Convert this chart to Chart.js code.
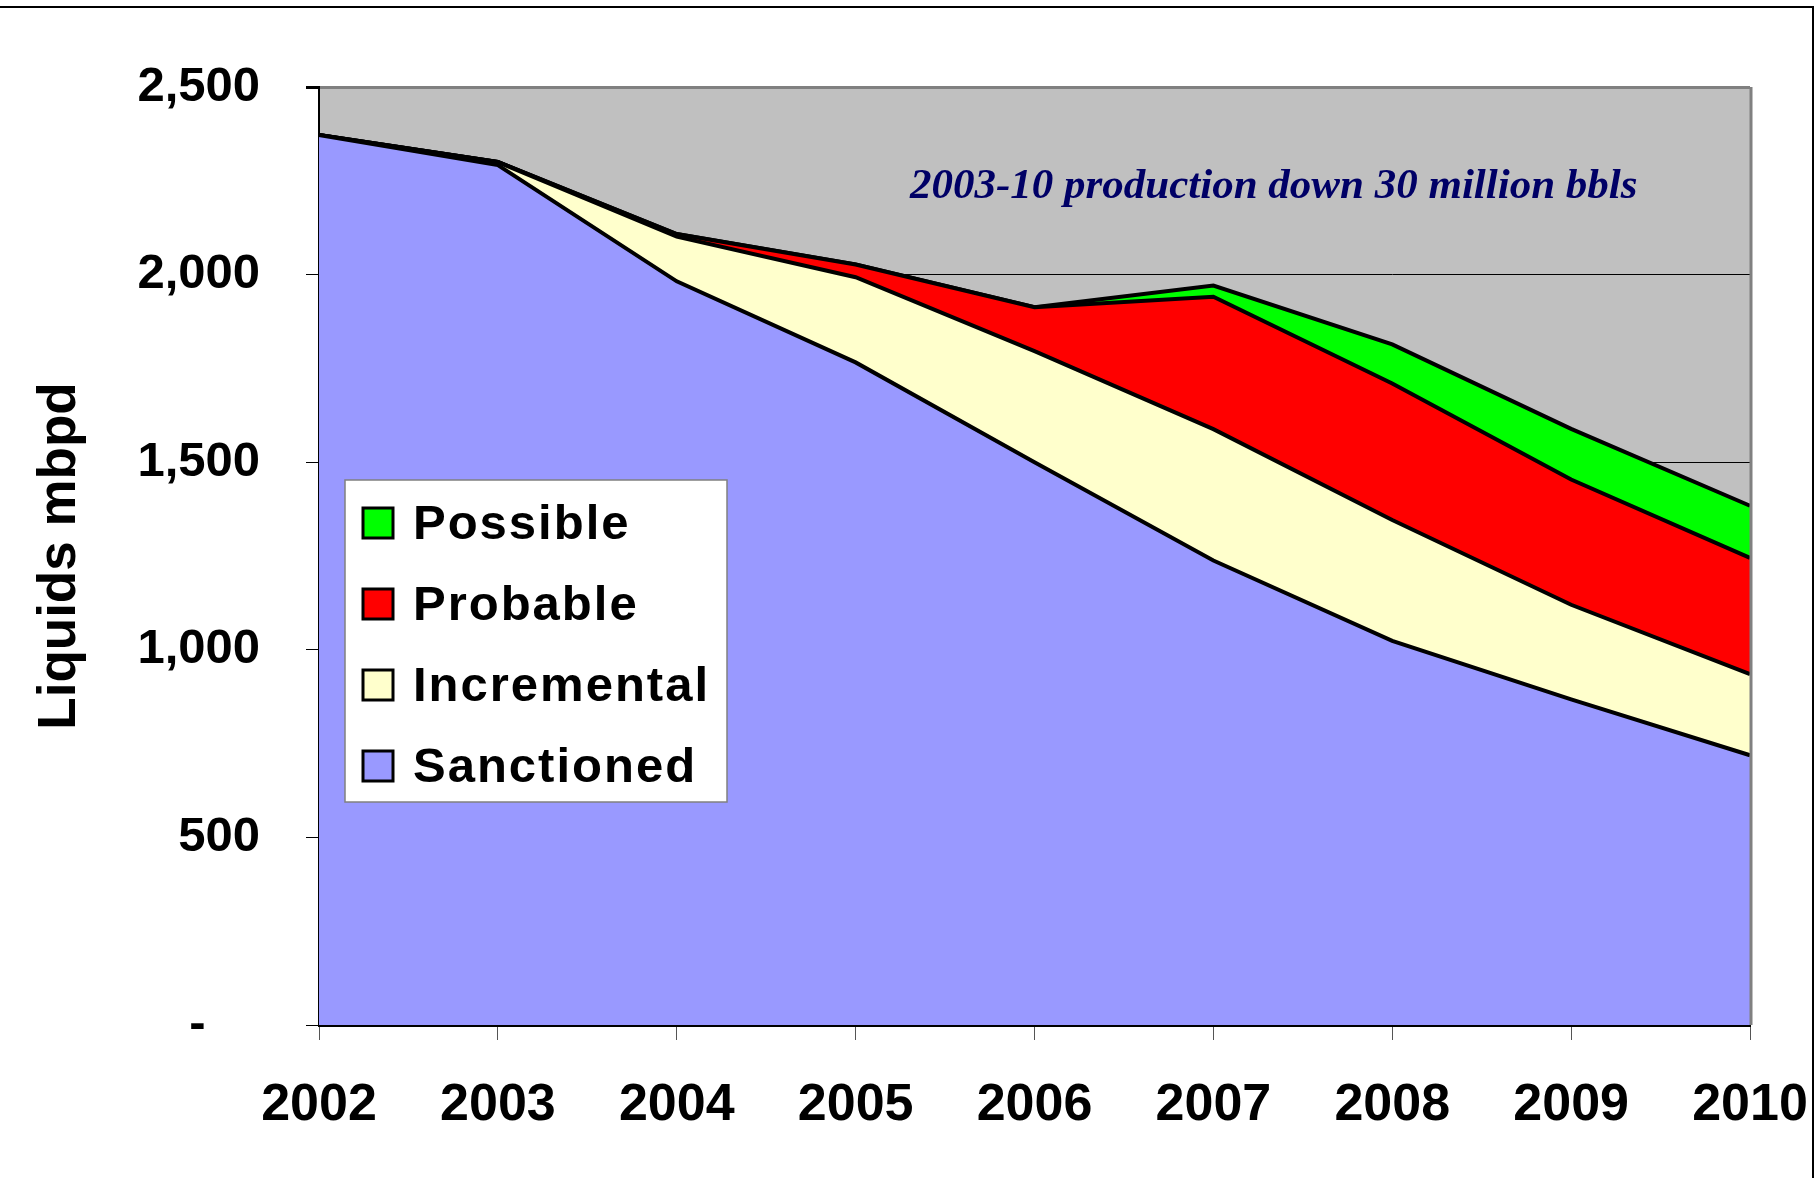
<!DOCTYPE html>
<html>
<head>
<meta charset="utf-8">
<script src="https://cdn.jsdelivr.net/npm/chart.js@4"></script>
<style>
  body { margin: 0; background: #fff; }
  #wrap { width: 1819px; height: 1178px; position: relative; }
</style>
</head>
<body>
<div id="wrap"><canvas id="chart"></canvas></div>
<script>
const years = ['2002', '2003', '2004', '2005', '2006', '2007', '2008', '2009', '2010'];

// stacked series, bottom to top
const sanctioned = [2372, 2292, 1982, 1766, 1500, 1238, 1024, 868, 719];
const incremental = [0, 8, 119, 227, 296, 350, 322, 252, 216];
const probable = [0, 0, 7, 34, 117, 353, 364, 334, 310];
const possible = [0, 0, 0, 0, 0, 30, 104, 135, 139];

const yTicks = [0, 500, 1000, 1500, 2000, 2500];
const note = '2003-10 production down 30 million bbls';

const sans = "'Liberation Sans', Arial, sans-serif";

const series = [
  { label: 'Sanctioned', data: sanctioned, color: '#9999ff' },
  { label: 'Incremental', data: incremental, color: '#ffffcc' },
  { label: 'Probable', data: probable, color: '#ff0000' },
  { label: 'Possible', data: possible, color: '#00ff00' }
];

const makeDataset = (s, i) => ({
  label: s.label,
  data: s.data,
  backgroundColor: s.color,
  borderColor: '#000',
  borderWidth: 4,
  borderJoinStyle: 'miter',
  fill: i === 0 ? 'origin' : '-1',
  pointRadius: 0,
  tension: 0
});

// grey plot background, frame, note and legend box
const extras = {
  id: 'extras',
  beforeDraw(chart) {
    const { ctx, chartArea: a } = chart;
    ctx.save();
    ctx.fillStyle = '#c0c0c0';
    ctx.fillRect(a.left, a.top, a.right - a.left, a.bottom - a.top);
    ctx.restore();
  },
  afterDatasetsDraw(chart) {
    const { ctx, chartArea: a } = chart;
    ctx.save();
    ctx.strokeStyle = '#808080';
    ctx.lineWidth = 3;
    ctx.beginPath();
    ctx.moveTo(a.right + 1, a.top);
    ctx.lineTo(a.right + 1, a.bottom);
    ctx.stroke();

    ctx.fillStyle = '#000066';
    ctx.font = "italic bold 43px 'Liberation Serif', 'Times New Roman', serif";
    ctx.textBaseline = 'alphabetic';
    ctx.textAlign = 'left';
    ctx.fillText(note, 910, 198);
    ctx.restore();
  },
  afterDraw(chart) {
    const { ctx } = chart;
    ctx.save();
    // outer frame (top and right only)
    ctx.strokeStyle = '#000';
    ctx.lineWidth = 2;
    ctx.beginPath();
    ctx.moveTo(0, 7);
    ctx.lineTo(1813, 7);
    ctx.lineTo(1813, 1178);
    ctx.stroke();

    // legend
    const x = 345, y = 480, w = 382, h = 322;
    ctx.fillStyle = '#fff';
    ctx.fillRect(x, y, w, h);
    ctx.strokeStyle = '#808080';
    ctx.lineWidth = 1.5;
    ctx.strokeRect(x, y, w, h);

    ctx.font = 'bold 49px ' + sans;
    ctx.letterSpacing = '2px';
    ctx.textBaseline = 'middle';
    ctx.textAlign = 'left';
    const items = series.slice().reverse();
    items.forEach((s, i) => {
      const cy = 523 + i * 81;
      ctx.fillStyle = s.color;
      ctx.fillRect(363, cy - 15, 30, 30);
      ctx.strokeStyle = '#000';
      ctx.lineWidth = 3;
      ctx.strokeRect(363, cy - 15, 30, 30);
      ctx.fillStyle = '#000';
      ctx.fillText(s.label, 413, cy + 2);
    });
    ctx.restore();
  }
};

new Chart(document.getElementById('chart'), {
  type: 'line',
  data: {
    labels: years,
    datasets: series.map(makeDataset)
  },
  options: {
    responsive: true,
    maintainAspectRatio: false,
    animation: false,
    layout: { padding: { left: 0, right: 69, top: 87, bottom: 0 } },
    plugins: {
      legend: { display: false },
      tooltip: { enabled: false }
    },
    scales: {
      x: {
        offset: false,
        grid: {
          drawOnChartArea: false,
          drawTicks: true,
          tickLength: 15,
          color: '#555',
          lineWidth: 1
        },
        border: { color: '#000', width: 3 },
        ticks: {
          color: '#000',
          padding: 34,
          maxRotation: 0,
          autoSkip: false,
          font: { family: sans, size: 52, weight: 'bold' }
        },
        afterFit: (scale) => {
          scale.height = 153;
          scale.paddingLeft = 0;
          scale.paddingRight = 0;
        }
      },
      y: {
        stacked: true,
        min: 0,
        max: 2500,
        afterBuildTicks: (scale) => { scale.ticks = yTicks.map((v) => ({ value: v })); },
        grid: {
          color: (c) => (c.tick && c.tick.value === 2500 ? '#808080' : '#000'),
          lineWidth: (c) => (c.tick && c.tick.value === 2500 ? 3 : 1),
          tickColor: '#000',
          tickLength: 13
        },
        border: { color: '#000', width: 2 },
        ticks: {
          color: '#000',
          padding: 46,
          font: { family: sans, size: 49, weight: 'bold' },
          callback: (v) => (v === 0 ? '-    ' : v.toLocaleString('en-US'))
        },
        title: {
          display: true,
          text: 'Liquids mbpd',
          color: '#000',
          font: { family: sans, size: 53, weight: 'bold' },
          padding: { top: 29, bottom: 0 }
        },
        afterFit: (scale) => { scale.width = 319; }
      }
    }
  },
  plugins: [extras]
});
</script>
</body>
</html>
